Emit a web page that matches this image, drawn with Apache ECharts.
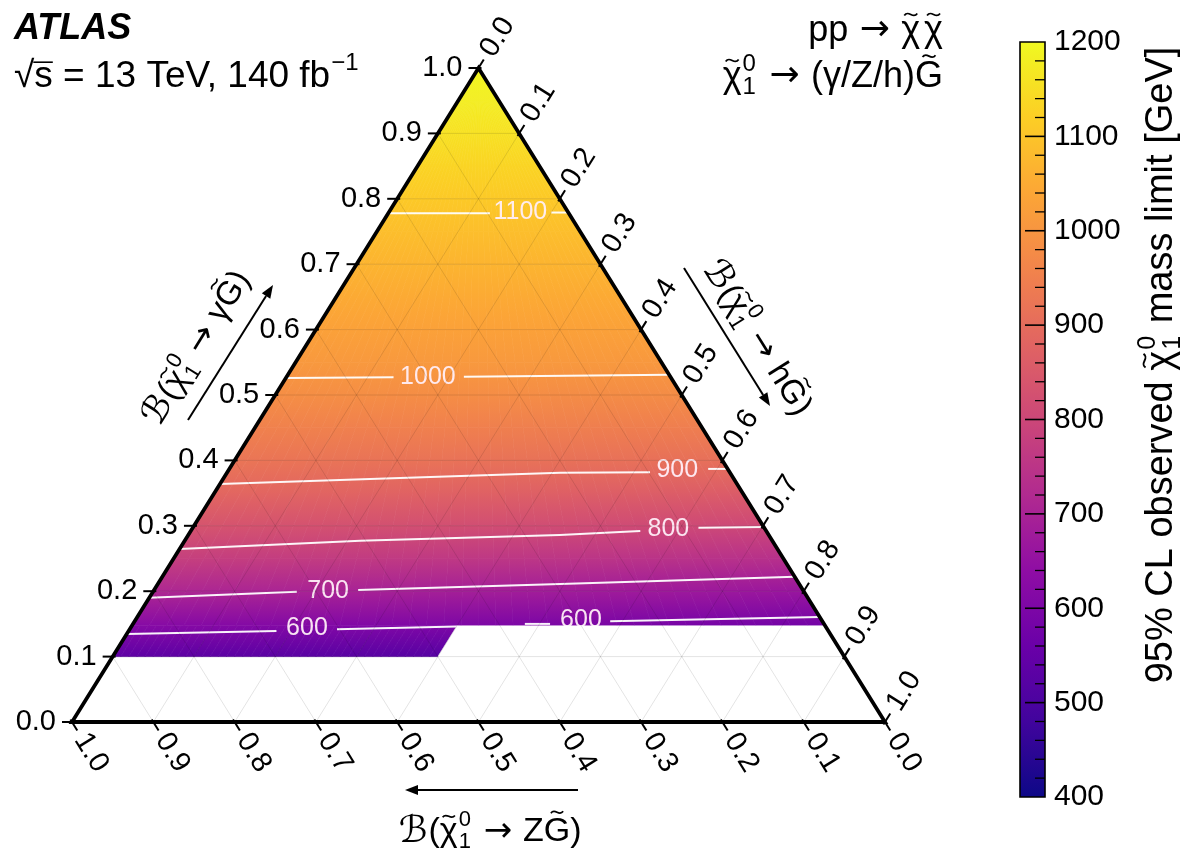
<!DOCTYPE html>
<html>
<head>
<meta charset="utf-8">
<script src="https://cdn.jsdelivr.net/npm/echarts@6/dist/echarts.min.js"></script>
<style>
  html, body { margin: 0; padding: 0; background: #fff; }
  #chart { width: 1183px; height: 852px; }
</style>
</head>
<body>
<div id="chart"></div>
<script>
// ---------------------------------------------------------------------------
// Data
// ---------------------------------------------------------------------------
// B(chi -> gamma G) rows at which the observed mass limit is tabulated
const gammaRows = [0.10, 0.147, 0.20, 0.25, 0.30, 0.35, 0.40, 0.45, 0.50, 0.55,
                   0.60, 0.65, 0.70, 0.75, 0.80, 0.85, 0.90, 0.95, 1.00];
// limit [GeV] on the edge where B(chi -> h G) = 0
const limitZEdge = [537, 622, 713, 780, 836, 886, 922, 953, 984, 1010,
                    1029, 1049, 1069, 1089, 1110, 1132, 1155, 1177, 1195];
// limit [GeV] on the edge where B(chi -> Z G) = 0
const limitHEdge = [501, 578, 664, 737, 802, 858, 909, 944, 978, 1008,
                    1028, 1048, 1068, 1088, 1110, 1132, 1155, 1177, 1195];
// largest B(chi -> h G) covered inside each band (gammaRows[i] .. gammaRows[i+1])
const bandHMax = [0.40, 1, 1, 1, 1, 1, 1, 1, 1, 1, 1, 1, 1, 1, 1, 1, 1, 1];

// contour lines, points given as [B(hG), B(gammaG)]; each contour is split around its label
const contourLabels = ['600', '600', '700', '800', '900', '1000', '1100'];
const contourLabelPos = [[0.217, 0.144], [0.548, 0.156], [0.215, 0.200], [0.586, 0.295],
                         [0.552, 0.385], [0.174, 0.5275], [0.162, 0.779]];
const contourPieces = [
  [[[0, 0.1346], [0.182, 0.139]], [[0.255, 0.142], [0.401, 0.146]]],
  [[[0.482, 0.150], [0.513, 0.150]], [[0.585, 0.154], [0.839, 0.1606]]],
  [[[0, 0.190], [0.177, 0.199]], [[0.251, 0.202], [0.495, 0.211], [0.778, 0.222]]],
  [[[0, 0.2645], [0.216, 0.277], [0.457, 0.286], [0.553, 0.292]], [[0.622, 0.297], [0.702, 0.298]]],
  [[[0, 0.364], [0.217, 0.373], [0.410, 0.381], [0.520, 0.382]], [[0.589, 0.387], [0.613, 0.387]]],
  [[[0, 0.526], [0.132, 0.527]], [[0.218, 0.528], [0.469, 0.531]]],
  [[[0, 0.778], [0.125, 0.778]], [[0.200, 0.779], [0.221, 0.779]]]
];

// ternary axis ticks (shared by all three axes)
const tickValues = [0, 0.1, 0.2, 0.3, 0.4, 0.5, 0.6, 0.7, 0.8, 0.9, 1.0];
const tickLabels = ['0.0', '0.1', '0.2', '0.3', '0.4', '0.5', '0.6', '0.7', '0.8', '0.9', '1.0'];
const gridSteps = [0.1, 0.2, 0.3, 0.4, 0.5, 0.6, 0.7, 0.8, 0.9];

// colour-bar range and ticks
const LIMIT_MIN = 400, LIMIT_MAX = 1200;
const barMajorTicks = [400, 500, 600, 700, 800, 900, 1000, 1100, 1200];
const barMinorPerMajor = 5;
// plasma colour scale, 11 evenly spaced stops
const plasmaStops = ['#0d0887', '#41049d', '#6a00a8', '#8f0da4', '#b12a90', '#cc4778',
                     '#e16462', '#f2844b', '#fca636', '#fcce25', '#f0f921'];

// ---------------------------------------------------------------------------
// Helpers
// ---------------------------------------------------------------------------
const FONT = "'Liberation Sans', 'DejaVu Sans', Arial, sans-serif";
const ARROW_FONT = "'DejaVu Sans', 'Liberation Sans', sans-serif";
const GRID = { left: 72, top: 68, width: 813, height: 654 };
const EDGE_ANGLE = Math.atan2(GRID.height, GRID.width / 2);

const plasmaRgb = plasmaStops.map(h => [1, 3, 5].map(i => parseInt(h.slice(i, i + 2), 16)));
function limitColor(v) {
  let t = (v - LIMIT_MIN) / (LIMIT_MAX - LIMIT_MIN);
  t = Math.max(0, Math.min(1, t));
  const p = t * (plasmaRgb.length - 1);
  const i = Math.min(Math.floor(p), plasmaRgb.length - 2);
  const f = p - i, a = plasmaRgb[i], b = plasmaRgb[i + 1];
  return 'rgb(' + [0, 1, 2].map(k => Math.round(a[k] + (b[k] - a[k]) * f)).join(',') + ')';
}

// ternary (h fraction, gamma fraction) -> cartesian data coordinates
function tern(h, g) { return [h + g / 2, g]; }

function rowLimit(j, h) {
  const g = gammaRows[j];
  const t = g < 1 ? h / (1 - g) : 0;
  return limitZEdge[j] + t * (limitHEdge[j] - limitZEdge[j]);
}

const SLICES = 40;
function renderBand(params, api) {
  const i = api.value(0);
  const ga = gammaRows[i], gb = gammaRows[i + 1];
  const wa = Math.min(bandHMax[i], 1 - ga), wb = Math.min(bandHMax[i], 1 - gb);
  const children = [];
  for (let k = 0; k < SLICES; k++) {
    const s0 = k / SLICES, s1 = (k + 1) / SLICES, sm = (s0 + s1) / 2;
    const pts = [[s0 * wa, ga], [s1 * wa, ga], [s1 * wb, gb], [s0 * wb, gb]]
      .map(([h, g]) => api.coord(tern(h, g)));
    const cBottom = limitColor(rowLimit(i, sm * wa));
    const cTop = limitColor(rowLimit(i + 1, sm * wb));
    const grad = new echarts.graphic.LinearGradient(0, 0, 0, 1,
      [{ offset: 0, color: cTop }, { offset: 1, color: cBottom }]);
    children.push({ type: 'polygon', shape: { points: pts },
      style: { fill: grad, stroke: grad, lineWidth: 0.7 } });
  }
  return { type: 'group', children };
}

function renderContour(params, api) {
  const c = api.value(0);
  const children = [];
  contourPieces[c].forEach(piece => {
    children.push({ type: 'polyline',
      shape: { points: piece.map(([h, g]) => api.coord(tern(h, g))) },
      style: { stroke: 'rgba(255,255,255,0.95)', lineWidth: 2, fill: null } });
  });
  const lp = api.coord(tern(contourLabelPos[c][0], contourLabelPos[c][1]));
  children.push({ type: 'text', x: lp[0], y: lp[1],
    style: { text: contourLabels[c], fontSize: 25, fontFamily: FONT,
             fill: 'rgba(255,238,248,0.95)', align: 'center', verticalAlign: 'middle' } });
  return { type: 'group', children };
}

function unit(a, b) {
  const dx = b[0] - a[0], dy = b[1] - a[1], L = Math.hypot(dx, dy);
  return [dx / L, dy / L];
}

function renderFrame(params, api) {
  const P = (h, g) => api.coord(tern(h, g));
  const children = [];

  // area of the lowest band without a result
  const ga = gammaRows[0], gb = gammaRows[1], hm = bandHMax[0];
  if (hm < 1 - ga) {
    children.push({ type: 'polygon',
      shape: { points: [P(hm, ga), P(1 - ga, ga), P(1 - gb, gb), P(hm, gb)] },
      style: { fill: '#fff', stroke: '#fff', lineWidth: 0.5 } });
  }

  // ternary grid
  gridSteps.forEach(v => {
    [[P(0, v), P(1 - v, v)], [P(v, 0), P(v, 1 - v)], [P(1 - v, 0), P(0, 1 - v)]].forEach(([a, b]) => {
      children.push({ type: 'line', shape: { x1: a[0], y1: a[1], x2: b[0], y2: b[1] },
        style: { stroke: 'rgba(0,0,0,0.11)', lineWidth: 1 } });
    });
  });

  const bl = P(0, 0), br = P(1, 0), top = P(0, 1);
  const u = unit(bl, top);   // along the left edge, upwards
  const d = unit(top, br);   // along the right edge, downwards
  const TICK = 10, GAP = 16;
  const lab = (text, x, y, rot, align) => ({ type: 'text', x, y, rotation: rot,
    style: { text, fontSize: 29, fontFamily: FONT, fill: '#000', align, verticalAlign: 'middle' } });
  const seg = (a, b) => ({ type: 'line', shape: { x1: a[0], y1: a[1], x2: b[0], y2: b[1] },
    style: { stroke: '#000', lineWidth: 2 } });

  tickValues.forEach((v, i) => {
    // left axis: B(gamma G)
    const pl = P(0, v);
    children.push(seg([pl[0] + 3, pl[1]], [pl[0] - TICK, pl[1]]));
    children.push(lab(tickLabels[i], pl[0] - GAP, pl[1], 0, 'right'));
    // right axis: B(h G)
    const pr = P(v, 1 - v);
    children.push(seg([pr[0] - u[0] * 3, pr[1] - u[1] * 3], [pr[0] + u[0] * TICK, pr[1] + u[1] * TICK]));
    children.push(lab(tickLabels[i], pr[0] + u[0] * GAP, pr[1] + u[1] * GAP,
      Math.atan2(-u[1], u[0]), 'left'));
    // bottom axis: B(Z G)
    const pb = P(1 - v, 0);
    children.push(seg([pb[0] - d[0] * 3, pb[1] - d[1] * 3], [pb[0] + d[0] * TICK, pb[1] + d[1] * TICK]));
    children.push(lab(tickLabels[i], pb[0] + d[0] * GAP, pb[1] + d[1] * GAP,
      Math.atan2(-d[1], d[0]), 'left'));
  });

  children.push({ type: 'polygon', shape: { points: [bl, br, top] },
    style: { fill: null, stroke: '#000', lineWidth: 3.8, lineJoin: 'miter' } });
  return { type: 'group', children };
}

function renderColorBar(params, api) {
  const p0 = api.coord([0, LIMIT_MAX]), p1 = api.coord([1, LIMIT_MIN]);
  const stops = plasmaStops.map((c, i) => ({ offset: i / (plasmaStops.length - 1), color: c }));
  const children = [{ type: 'rect',
    shape: { x: p0[0], y: p0[1], width: p1[0] - p0[0], height: p1[1] - p0[1] },
    style: { fill: new echarts.graphic.LinearGradient(0, 1, 0, 0, stops) } }];
  // ticks pointing in from the right-hand side of the bar
  barMajorTicks.forEach((v, i) => {
    const len = (i === 0 || i === barMajorTicks.length - 1) ? 0 : 20;
    const p = api.coord([1, v]);
    if (len) children.push({ type: 'line', shape: { x1: p[0], y1: p[1], x2: p[0] - len, y2: p[1] },
      style: { stroke: '#000', lineWidth: 1.6 } });
    if (i < barMajorTicks.length - 1) {
      const step = (barMajorTicks[i + 1] - v) / barMinorPerMajor;
      for (let m = 1; m < barMinorPerMajor; m++) {
        const q = api.coord([1, v + m * step]);
        children.push({ type: 'line', shape: { x1: q[0], y1: q[1], x2: q[0] - 10, y2: q[1] },
          style: { stroke: '#000', lineWidth: 1.3 } });
      }
    }
  });
  children.push({ type: 'rect',
    shape: { x: p0[0], y: p0[1], width: p1[0] - p0[0], height: p1[1] - p0[1] },
    style: { fill: null, stroke: '#000', lineWidth: 1.6 } });
  return { type: 'group', children };
}

// composed labels with tildes and stacked super/subscripts
const mctx = document.createElement('canvas').getContext('2d');
function measure(str, size, weight, style, family) {
  mctx.font = (style || 'normal') + ' ' + (weight || 'normal') + ' ' + size + 'px ' + (family || FONT);
  return mctx.measureText(str).width;
}
function txt(t, x, y, size, weight, style, align, family) {
  return { type: 'text', x, y, style: { text: t, fontSize: size, fontFamily: family || FONT,
    fontWeight: weight || 'normal', fontStyle: style || 'normal', fill: '#000',
    align: align || 'left', verticalAlign: 'middle' } };
}
function composed(pieces, size, cx, cy, rotation, anchor) {
  let x = 0;
  const els = [];
  pieces.forEach(p => {
    if (p.stack) {
      const s = Math.round(size * 0.66);
      els.push(txt(p.stack[0], x + 1, -size * 0.36, s));
      els.push(txt(p.stack[1], x + 1, size * 0.30, s));
      x += Math.max(measure(p.stack[0], s), measure(p.stack[1], s)) + 3;
    } else if (p.sup) {
      const s = Math.round(size * 0.66);
      els.push(txt(p.sup, x + 1, -size * 0.36, s));
      x += measure(p.sup, s) + 1;
    } else {
      const sz = Math.round(size * (p.scale || 1));
      const w = measure(p.t, sz, p.weight, p.style, p.family);
      els.push(txt(p.t, x, 0, sz, p.weight, p.style, 'left', p.family));
      if (p.overline) {
        els.push({ type: 'line', shape: { x1: x - 1, y1: -size * 0.40, x2: x + w, y2: -size * 0.40 },
          style: { stroke: '#000', lineWidth: 1.6 } });
      }
      if (p.tilde) {
        // tilde accent drawn as a small S-shaped curve above the glyph
        const tw = size * 0.36, th = size * 0.09, ty = -size * p.tilde, xc = x + w / 2;
        els.push({ type: 'bezierCurve',
          shape: { x1: xc - tw / 2, y1: ty + th * 0.3, x2: xc + tw / 2, y2: ty - th * 0.3,
                   cpx1: xc - tw / 6, cpy1: ty - th * 1.6, cpx2: xc + tw / 6, cpy2: ty + th * 1.6 },
          style: { stroke: '#000', lineWidth: Math.max(1.4, size * 0.05), fill: null } });
      }
      x += w + (p.pad || 0);
    }
  });
  const off = anchor === 'right' ? -x : anchor === 'left' ? 0 : -x / 2;
  els.forEach(e => {
    if (e.type === 'text') e.x += off;
    else {
      e.shape.x1 += off; e.shape.x2 += off;
      if (e.shape.cpx1 !== undefined) { e.shape.cpx1 += off; e.shape.cpx2 += off; }
    }
  });
  return { type: 'group', x: cx, y: cy, rotation: rotation || 0, children: els };
}
function arrow(x1, y1, x2, y2) {
  const a = Math.atan2(y2 - y1, x2 - x1), L = 13, W = 5;
  const bx = x2 - L * Math.cos(a), by = y2 - L * Math.sin(a);
  return [
    { type: 'line', shape: { x1, y1, x2: bx, y2: by }, style: { stroke: '#000', lineWidth: 2 } },
    { type: 'polygon', shape: { points: [[x2, y2],
        [bx - W * Math.sin(a), by + W * Math.cos(a)], [bx + W * Math.sin(a), by - W * Math.cos(a)]] },
      style: { fill: '#000' } }
  ];
}

const chiT = { t: 'χ', tilde: 0.46 };
const gT = { t: 'G', tilde: 0.58 };
const arrowT = { t: ' → ', family: ARROW_FONT };
const branching = (prod) => [{ t: 'ℬ', scale: 1.1, pad: 1 }, { t: '(' }, chiT, { stack: ['0', '1'] },
  arrowT, { t: prod }, gT, { t: ')' }];

const graphics = [
  composed([{ t: 'ATLAS', weight: 'bold', style: 'italic' }], 36, 14, 29, 0, 'left'),
  composed([{ t: '√' }, { t: 's', overline: true }, { t: ' = 13 TeV, 140 fb' }, { sup: '−1' }], 37, 14, 77, 0, 'left'),
  composed([{ t: 'pp' }, arrowT, chiT, { t: ' ', scale: 0.4 }, chiT], 36, 943, 31, 0, 'right'),
  composed([chiT, { stack: ['0', '1'] }, arrowT, { t: '(γ/Z/h)' }, gT], 36, 943, 77, 0, 'right'),
  composed(branching('γ'), 33, 197, 348, EDGE_ANGLE, 'center'),
  composed(branching('h'), 33, 757, 338, -EDGE_ANGLE, 'center'),
  composed(branching('Z'), 34, 490, 832, 0, 'center'),
  composed([{ t: '95% CL observed ' }, chiT, { stack: ['0', '1'] }, { t: ' mass limit [GeV]' }], 38, 1162, 365, Math.PI / 2, 'center')
].concat(arrow(188, 420, 273, 285), arrow(684, 268, 770, 406), arrow(578, 790, 405, 790));

// ---------------------------------------------------------------------------
// Chart
// ---------------------------------------------------------------------------
const chart = echarts.init(document.getElementById('chart'));
chart.setOption({
  animation: false,
  backgroundColor: '#fff',
  grid: [
    { left: GRID.left, top: GRID.top, width: GRID.width, height: GRID.height },
    { left: 1020, top: 42, width: 25, height: 755 }
  ],
  xAxis: [
    { gridIndex: 0, type: 'value', min: 0, max: 1, show: false },
    { gridIndex: 1, type: 'value', min: 0, max: 1, show: false }
  ],
  yAxis: [
    { gridIndex: 0, type: 'value', min: 0, max: 1, show: false },
    { gridIndex: 1, type: 'value', min: LIMIT_MIN, max: LIMIT_MAX, interval: 100,
      position: 'right',
      axisLine: { show: false },
      axisTick: { show: false },
      splitLine: { show: false },
      axisLabel: { color: '#000', fontSize: 30, fontFamily: FONT, margin: 9,
                   formatter: v => String(v) } }
  ],
  series: [
    { type: 'custom', name: 'limit', xAxisIndex: 0, yAxisIndex: 0, z: 1,
      data: gammaRows.slice(0, -1).map((g, i) => [i]), renderItem: renderBand },
    { type: 'custom', name: 'contours', xAxisIndex: 0, yAxisIndex: 0, z: 2,
      data: contourLabels.map((l, i) => [i]), renderItem: renderContour },
    { type: 'custom', name: 'frame', xAxisIndex: 0, yAxisIndex: 0, z: 3,
      data: [[0]], renderItem: renderFrame },
    { type: 'custom', name: 'colorbar', xAxisIndex: 1, yAxisIndex: 1, z: 1,
      data: [[0]], renderItem: renderColorBar }
  ],
  graphic: graphics
});
</script>
</body>
</html>
